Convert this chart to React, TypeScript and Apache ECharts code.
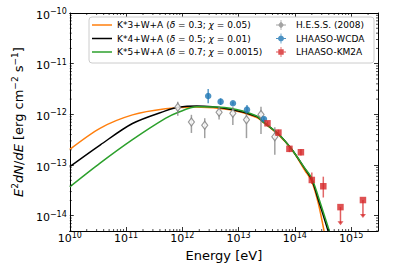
import React, { useEffect, useRef } from 'react';
import * as echarts from 'echarts';

// ---- data ----
const xMin = 1e10;
const xMax = 3e15;
const yMin = 5e-15;
const yMax = 1e-10;

const k3Name = 'K*3+W+A (δ = 0.3; χ = 0.05)';
const k4Name = 'K*4+W+A (δ = 0.5; χ = 0.01)';
const k5Name = 'K*5+W+A (δ = 0.7; χ = 0.0015)';
const hessName = 'H.E.S.S. (2008)';
const wcdaName = 'LHAASO-WCDA';
const km2aName = 'LHAASO-KM2A';

const k3E = [1e10, 3.5e10, 1.3e11, 5e11, 1.7e12, 7.1e12, 2.1e13, 2.7e13, 5.2e13, 8.9e13, 1.5e14, 2.0e14, 2.6e14, 3.3e14];
const k3F = [2.04e-13, 5.37e-13, 9.77e-13, 1.29e-12, 1.4e-12, 1.23e-12, 8.7e-13, 7.1e-13, 3.9e-13, 2.0e-13, 7.9e-14, 4.7e-14, 1.78e-14, 5.0e-15];

const k4E = [1e10, 3.5e10, 1.3e11, 5e11, 8.5e11, 1.8e12, 7.1e12, 2.1e13, 2.7e13, 5.2e13, 8.9e13, 1.5e14, 2.0e14, 2.6e14, 3.9e14];
const k4F = [9.3e-14, 2.51e-13, 6.6e-13, 1.17e-12, 1.38e-12, 1.46e-12, 1.26e-12, 9.1e-13, 7.2e-13, 4.0e-13, 2.0e-13, 8.5e-14, 5.1e-14, 2.1e-14, 5.0e-15];

const k5E = [1e10, 3.5e10, 1.3e11, 5e11, 8.5e11, 1.8e12, 7.1e12, 2.1e13, 2.7e13, 5.2e13, 8.9e13, 1.5e14, 2.0e14, 2.6e14, 4.1e14];
const k5F = [3.7e-14, 1.1e-13, 3.16e-13, 8.3e-13, 1.1e-12, 1.41e-12, 1.32e-12, 9.3e-13, 7.2e-13, 4.0e-13, 2.0e-13, 8.7e-14, 5.5e-14, 2.4e-14, 5.0e-15];

const hessE = [8.3e11, 1.45e12, 2.5e12, 4.5e12, 7.9e12, 1.38e13, 2.5e13, 4.4e13];
const hessF = [1.38e-12, 7.1e-13, 6.1e-13, 1.1e-12, 1.05e-12, 7.8e-13, 9.9e-13, 3.6e-13];
const hessLo = [9.4e-13, 4.3e-13, 3.4e-13, 7.9e-13, 6.2e-13, 3.4e-13, 4.1e-13, 1.6e-13];
const hessHi = [1.78e-12, 9.8e-13, 8.4e-13, 1.41e-12, 1.41e-12, 1.05e-12, 1.41e-12, 5.6e-13];

const wcdaE = [2.88e12, 4.79e12, 7.94e12, 1.41e13, 2.82e13];
const wcdaF = [2.3e-12, 1.78e-12, 1.66e-12, 1.24e-12, 8.1e-13];
const wcdaLo = [1.66e-12, 1.53e-12, 1.55e-12, 1.08e-12, 7.4e-13];
const wcdaHi = [3.17e-12, 2.08e-12, 1.78e-12, 1.53e-12, 8.8e-13];

const km2aE = [3.26e13, 5.1e13, 8.0e13, 1.28e14, 2.0e14, 3.2e14];
const km2aF = [6.67e-13, 4.37e-13, 2.09e-13, 1.79e-13, 5.08e-14, 3.82e-14];
const km2aLo = [6.1e-13, 3.8e-13, 1.8e-13, 1.55e-13, 4.24e-14, 2.29e-14];
const km2aHi = [7.3e-13, 5.0e-13, 2.4e-13, 2.05e-13, 7.1e-14, 5.9e-14];

const ulE = [6.46e14, 1.62e15];
const ulF = [1.48e-14, 2.04e-14];

// ---- styling helpers ----
const FONT = 'DejaVu Sans';
const C_ORANGE = '#ff7f0e';
const C_BLACK = '#000000';
const C_GREEN = '#2ca02c';
const C_BLUE = '#1f77b4';
const C_RED = '#d62728';
const C_GRAY = '#7f7f7f';

const supStr = (n: number) => String(n).replace('-', '\u2212');
function logLabel(v: number) {
  const e = Math.log10(v);
  const r = Math.round(e);
  if (Math.abs(e - r) > 1e-6) return '';
  return `{b|10}{s|${supStr(r)}}`;
}
const tickRich = {
  b: { fontSize: 11, lineHeight: 11, padding: [4, 0, 0, 0], fontFamily: FONT, color: '#000' },
  s: { fontSize: 8, lineHeight: 8, verticalAlign: 'top', fontFamily: FONT, color: '#000' },
};

const xMinor: number[] = [];
for (let n = 10; n <= 15; n++) {
  for (let k = 2; k <= 9; k++) {
    const v = k * Math.pow(10, n);
    if (v > xMin && v < xMax) xMinor.push(v);
  }
}
const yMinor: number[] = [];
for (let n = -15; n <= -11; n++) {
  for (let k = 2; k <= 9; k++) {
    const v = k * Math.pow(10, n);
    if (v > yMin && v < yMax) yMinor.push(v);
  }
}

function errSeries(E: number[], lo: number[], hi: number[], color: string) {
  return {
    type: 'custom',
    silent: true,
    clip: false,
    z: 3,
    data: E.map((e, i) => [e, lo[i], hi[i]]),
    encode: { x: 0, y: [1, 2] },
    renderItem: (_p: any, api: any) => {
      const a = api.coord([api.value(0), api.value(1)]);
      const b = api.coord([api.value(0), api.value(2)]);
      return {
        type: 'line',
        shape: { x1: a[0], y1: a[1], x2: b[0], y2: b[1] },
        style: { stroke: color, lineWidth: 1.5 },
      };
    },
  };
}

const crossPath = 'M4.6,0H5.4V10H4.6Z M0,4.6H10V5.4H0Z ';
const iconHess = 'path://' + crossPath + 'M5,1.4L8,5L5,8.6L2,5Z';
const iconWcda = 'path://' + crossPath + 'M5,2A3,3 0 1 1 4.99,2Z';
const iconKm2a = 'path://' + crossPath + 'M2.3,2.3H7.7V7.7H2.3Z';
const iconLine = 'path://M0,0H20V1.5H0Z';

export default function App() {
  const ref = useRef<HTMLDivElement>(null);
  useEffect(() => {
    if (!ref.current) return;
    const chart = echarts.init(ref.current, null, { renderer: 'svg' });
    const lineSeries = (name: string, E: number[], F: number[], color: string) => ({
      type: 'line',
      name,
      data: E.map((e, i) => [e, F[i]]),
      symbol: 'none',
      showSymbol: false,
      smooth: 0.3,
      clip: true,
      z: 2,
      lineStyle: { color, width: 1.5 },
      itemStyle: { color },
    });
    const axisCommon = {
      axisLine: { show: true, onZero: false, lineStyle: { color: '#000', width: 1 } },
      axisTick: { show: true, inside: true, length: 4, lineStyle: { color: '#000', width: 0.8 } },
      splitLine: { show: false },
    };
    const option: any = {
      animation: false,
      backgroundColor: '#fff',
      grid: { left: 62, top: 13, right: 29, bottom: 40 },
      xAxis: [
        {
          type: 'log', min: xMin, max: xMax, logBase: 10, position: 'bottom',
          ...axisCommon,
          axisLabel: { show: true, margin: 0, formatter: logLabel, rich: tickRich, showMinLabel: true, showMaxLabel: true, hideOverlap: false },
          name: 'Energy [eV]', nameLocation: 'middle', nameGap: 14,
          nameTextStyle: { fontSize: 13, fontFamily: FONT, color: '#000' },
        },
        {
          type: 'log', min: xMin, max: xMax, logBase: 10, position: 'top',
          ...axisCommon,
          axisLabel: { show: false },
        },
      ],
      yAxis: [
        {
          type: 'log', min: yMin, max: yMax, logBase: 10, position: 'left',
          ...axisCommon,
          axisLabel: { show: true, margin: 3, formatter: logLabel, rich: tickRich, showMinLabel: true, showMaxLabel: true },
          name: '{i|E}{s|2}{i|dN}{n|/}{i|dE}{n| [erg cm}{s|\u22122}{n| s}{s|\u22121}{n|]}',
          nameLocation: 'middle', nameGap: 38, nameRotate: 90,
          nameTextStyle: {
            fontSize: 13, fontFamily: FONT, color: '#000',
            rich: {
              i: { fontSize: 13, fontStyle: 'italic', fontFamily: FONT, lineHeight: 13, padding: [4, 0, 0, 0], color: '#000' },
              n: { fontSize: 13, fontFamily: FONT, lineHeight: 13, padding: [4, 0, 0, 0], color: '#000' },
              s: { fontSize: 9, fontFamily: FONT, lineHeight: 9, verticalAlign: 'top', color: '#000' },
            },
          },
        },
        {
          type: 'log', min: yMin, max: yMax, logBase: 10, position: 'right',
          ...axisCommon,
          axisLabel: { show: false },
        },
      ],
      graphic: [
        {
          type: 'rect', z: 3,
          shape: { x: 89, y: 17, width: 285, height: 46, r: 3 },
          style: { fill: 'rgba(255,255,255,0.85)', stroke: '#cccccc', lineWidth: 1 },
        },
      ],
      legend: [
        {
          orient: 'vertical', left: 92, top: 20, itemWidth: 20, itemHeight: 10, itemGap: 3.5,
          padding: 0, z: 5,
          data: [
            { name: k3Name, icon: iconLine },
            { name: k4Name, icon: iconLine },
            { name: k5Name, icon: iconLine },
          ],
          formatter: (name: string) => name.replace(/δ/g, '{i|δ}').replace(/χ/g, '{i|χ}'),
          textStyle: {
            fontSize: 9, fontFamily: FONT, color: '#000', lineHeight: 10,
            rich: { i: { fontSize: 9, fontStyle: 'italic', fontFamily: FONT, color: '#000' } },
          },
        },
        {
          orient: 'vertical', left: 276, top: 20, itemWidth: 20, itemHeight: 10, itemGap: 3.5,
          padding: 0, z: 5,
          data: [
            { name: hessName, icon: iconHess, itemStyle: { color: '#8c8c8c', borderWidth: 0 } },
            { name: wcdaName, icon: iconWcda, itemStyle: { color: C_BLUE, borderWidth: 0 } },
            { name: km2aName, icon: iconKm2a, itemStyle: { color: C_RED, borderWidth: 0 } },
          ],
          textStyle: { fontSize: 9, fontFamily: FONT, color: '#000', lineHeight: 10 },
        },
      ],
      series: [
        lineSeries(k3Name, k3E, k3F, C_ORANGE),
        lineSeries(k4Name, k4E, k4F, C_BLACK),
        lineSeries(k5Name, k5E, k5F, C_GREEN),
        errSeries(hessE, hessLo, hessHi, 'rgba(128,128,128,0.75)'),
        errSeries(wcdaE, wcdaLo, wcdaHi, 'rgba(31,119,180,0.75)'),
        errSeries(km2aE, km2aLo, km2aHi, 'rgba(214,39,40,0.7)'),
        {
          type: 'custom', silent: true, clip: false, z: 3,
          data: ulE.map((e, i) => [e, ulF[i]]),
          encode: { x: 0, y: 1 },
          renderItem: (_p: any, api: any) => {
            const a = api.coord([api.value(0), api.value(1)]);
            const b = api.coord([api.value(0), api.value(1) * 0.44]);
            const col = 'rgba(214,39,40,0.75)';
            return {
              type: 'group',
              children: [
                { type: 'line', shape: { x1: a[0], y1: a[1], x2: b[0], y2: b[1] - 2 }, style: { stroke: col, lineWidth: 1.5 } },
                { type: 'polygon', shape: { points: [[b[0] - 3, b[1] - 4], [b[0] + 3, b[1] - 4], [b[0], b[1]]] }, style: { fill: col } },
              ],
            };
          },
        },
        {
          type: 'scatter', name: hessName, z: 4,
          data: hessE.map((e, i) => [e, hessF[i]]),
          symbol: 'diamond', symbolSize: [6, 8],
          itemStyle: { color: '#ffffff', borderColor: C_GRAY, borderWidth: 1.2 },
        },
        {
          type: 'scatter', name: wcdaName, z: 4,
          data: wcdaE.map((e, i) => [e, wcdaF[i]]),
          symbol: 'circle', symbolSize: 6.5,
          itemStyle: { color: C_BLUE },
        },
        {
          type: 'scatter', name: km2aName, z: 4,
          data: km2aE.concat(ulE).map((e, i) => [e, km2aF.concat(ulF)[i]]),
          symbol: 'rect', symbolSize: 6.5,
          itemStyle: { color: C_RED },
        },
        {
          type: 'custom', silent: true, clip: false, z: 5,
          data: xMinor.map((v) => [v, 1e-12, 0]).concat(yMinor.map((v) => [1e12, v, 1])),
          encode: { x: 0, y: 1 },
          renderItem: (params: any, api: any) => {
            const cs = params.coordSys;
            const p = api.coord([api.value(0), api.value(1)]);
            const L = 2;
            const st = { stroke: '#000', lineWidth: 0.7 };
            if (api.value(2) === 0) {
              return {
                type: 'group',
                children: [
                  { type: 'line', shape: { x1: p[0], y1: cs.y + cs.height, x2: p[0], y2: cs.y + cs.height - L }, style: st },
                  { type: 'line', shape: { x1: p[0], y1: cs.y, x2: p[0], y2: cs.y + L }, style: st },
                ],
              };
            }
            return {
              type: 'group',
              children: [
                { type: 'line', shape: { x1: cs.x, y1: p[1], x2: cs.x + L, y2: p[1] }, style: st },
                { type: 'line', shape: { x1: cs.x + cs.width, y1: p[1], x2: cs.x + cs.width - L, y2: p[1] }, style: st },
              ],
            };
          },
        },
      ],
    };
    chart.setOption(option);
    return () => chart.dispose();
  }, []);
  return <div ref={ref} style={{ width: 407, height: 271, position: 'absolute', left: 0, top: 0 }} />;
}
